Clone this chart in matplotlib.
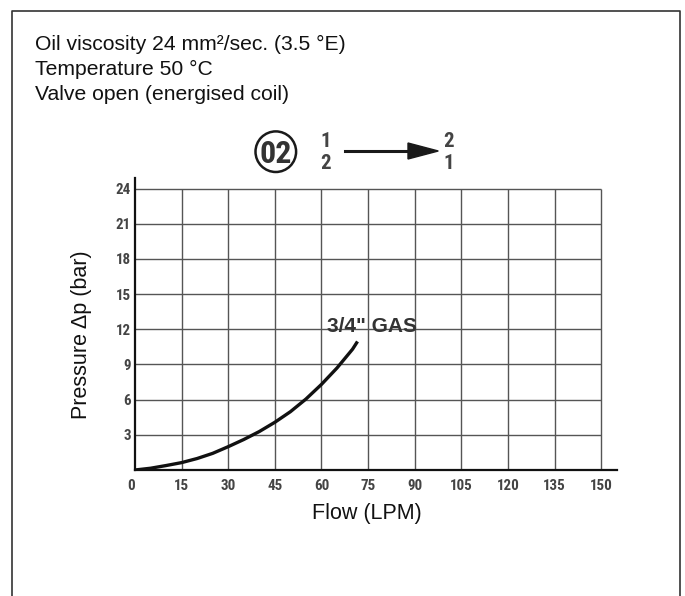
import matplotlib
matplotlib.use("Agg")
import matplotlib.pyplot as plt
from matplotlib import font_manager
from matplotlib.transforms import IdentityTransform
from matplotlib.lines import Line2D
from matplotlib.patches import Circle, Polygon

# ---------------- data ----------------
flow = [0, 5, 10, 15, 20, 25, 30, 35, 40, 45, 50, 55, 60, 65, 70, 71.6]
pressure = [0, 0.15, 0.38, 0.63, 0.98, 1.42, 1.99, 2.6, 3.28, 4.07, 4.97, 6.05, 7.3, 8.7, 10.3, 10.96]
x_ticks = [0, 15, 30, 45, 60, 75, 90, 105, 120, 135, 150]
y_ticks = [3, 6, 9, 12, 15, 18, 21, 24]
curve_label = '3/4" GAS'
header_lines = ["Oil viscosity 24 mm\u00b2/sec. (3.5 \u00b0E)",
                "Temperature 50 \u00b0C",
                "Valve open (energised coil)"]
x_label = "Flow (LPM)"
y_label = "Pressure \u0394p (bar)"

# ---------------- fonts ----------------
avail = {f.name for f in font_manager.fontManager.ttflist}
def pick(*names):
    for n in names:
        if n in avail:
            return n
    return "DejaVu Sans"
SANS = pick("Liberation Sans", "Arial", "DejaVu Sans")
NARROW = pick("Liberation Sans Narrow", "Arial Narrow", "Roboto Condensed",
              "DejaVu Sans Condensed", "Liberation Sans")
narrow_kw = {}
if NARROW == "Liberation Sans":
    narrow_kw = {"fontstretch": "condensed"}

W, H = 685, 596
fig = plt.figure(figsize=(W / 100, H / 100), dpi=100)
fig.patch.set_facecolor("white")

# axes placement (pixels)
x0_px, x1_px = 135, 617
y0_px, y1_px = 470, 178
ax = fig.add_axes([x0_px / W, (H - y0_px) / H, (x1_px - x0_px) / W, (y0_px - y1_px) / H])
ax.set_xlim(0, 155.1)
ax.set_ylim(0, 24.9)
for s in ("top", "right"):
    ax.spines[s].set_visible(False)
for s in ("left", "bottom"):
    ax.spines[s].set_linewidth(1.6)
    ax.spines[s].set_color("#111111")

# grid limited to data range
ax.vlines(x_ticks[1:], 0, max(y_ticks), color="#555555", lw=1.0, zorder=1)
ax.hlines(y_ticks, 0, max(x_ticks), color="#555555", lw=1.0, zorder=1)

ax.set_xticks(x_ticks)
ax.set_xticklabels([str(v) for v in x_ticks])
ax.set_yticks(y_ticks)
ax.set_yticklabels([str(v) for v in y_ticks])
ax.tick_params(length=0, labelsize=10.8, labelcolor="#444444")
ax.tick_params(axis="x", pad=6.3)
ax.tick_params(axis="y", pad=2.9)
for lab in ax.get_xticklabels() + ax.get_yticklabels():
    lab.set_fontfamily(NARROW)
    lab.set_fontweight("bold")
    for k, v in narrow_kw.items():
        lab.set(**{k: v})
ax.get_xticklabels()[0].set_ha("right")

ax.set_xlabel(x_label, fontsize=15.5, family=SANS, color="#111111")
ax.set_ylabel(y_label, fontsize=15.5, family=SANS, color="#111111")
ax.xaxis.set_label_coords((366.7 - x0_px) / (x1_px - x0_px), (y0_px - 513) / (y0_px - y1_px))
ax.xaxis.label.set_va("center")
ax.yaxis.set_label_coords((81.7 - x0_px) / (x1_px - x0_px), (y0_px - 335) / (y0_px - y1_px))
ax.yaxis.label.set_va("center")

# curve
ax.plot(flow, pressure, color="#111111", lw=2.4, solid_capstyle="butt",
        solid_joinstyle="round", zorder=3)
ax.text(61.7, 12.2, curve_label, fontsize=15, fontweight="bold", family=SANS,
        color="#333333", ha="left", va="center", zorder=4)

# ---------------- decorations (figure pixels) ----------------
T = IdentityTransform()
# frame (open at the bottom)
fig.add_artist(Line2D([12, 12, 680, 680], [-5, H - 11, H - 11, -5], transform=T,
                      color="#333333", lw=1.2))
# header text
for i, line in enumerate(header_lines):
    fig.text(35, H - (50 + 25 * i), line, transform=T, fontsize=15.2, family=SANS,
             color="#111111", ha="left", va="baseline")

# circled "02"
fig.add_artist(Circle((275.8, H - 151.7), 20.3, transform=T, fill=False,
                      ec="#1a1a1a", lw=1.8))
fig.text(275.8, H - 163, "02", transform=T, fontsize=23, fontweight="bold",
         family=NARROW, color="#333333", ha="center", va="baseline", **narrow_kw)
# port numbers
for xc, top, bot in ((326, "1", "2"), (449, "2", "1")):
    fig.text(xc, H - 146.8, top, transform=T, fontsize=15, fontweight="bold",
             family=NARROW, color="#444444", ha="center", va="baseline", **narrow_kw)
    fig.text(xc, H - 169.2, bot, transform=T, fontsize=15, fontweight="bold",
             family=NARROW, color="#444444", ha="center", va="baseline", **narrow_kw)
# arrow
fig.add_artist(Line2D([345, 410], [H - 151, H - 151], transform=T, color="#1a1a1a", lw=2.2))
fig.add_artist(Polygon([(408, H - 143), (408, H - 159), (438.3, H - 151)], closed=True,
                       transform=T, fc="#1a1a1a", ec="#1a1a1a", lw=1))

fig.savefig("out.png", dpi=100, facecolor="white")
